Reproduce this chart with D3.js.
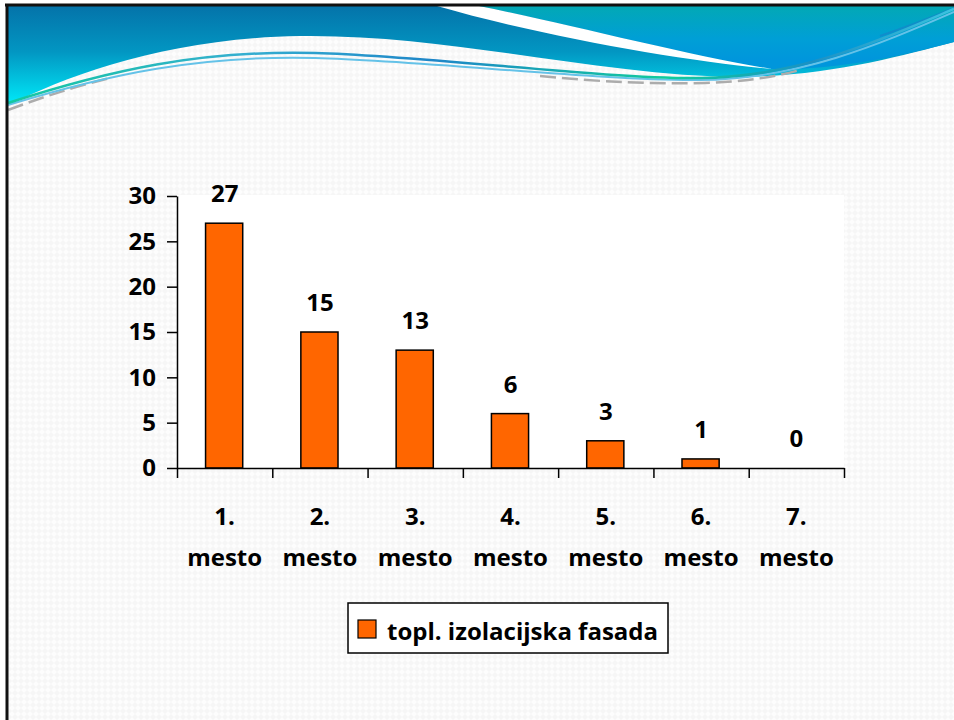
<!DOCTYPE html>
<html>
<head>
<meta charset="utf-8">
<script src="https://cdn.jsdelivr.net/npm/d3@7/dist/d3.min.js"></script>
<style>
  html, body { margin: 0; padding: 0; background: #ffffff; }
  svg { display: block; }
</style>
</head>
<body>
<svg id="chart" width="954" height="720"></svg>
<script>
// ---- data ----
const categories = ["1. mesto", "2. mesto", "3. mesto", "4. mesto", "5. mesto", "6. mesto", "7. mesto"];
const values = [27, 15, 13, 6, 3, 1, 0];
const yTicks = [0, 5, 10, 15, 20, 25, 30];
const seriesName = "topl. izolacijska fasada";

// ---- setup ----
const W = 954, H = 720;
const FONT = "'Open Sans', 'DejaVu Sans', sans-serif";
const svg = d3.select("#chart");
const defs = svg.append("defs");

// faint woven background texture
const pat = defs.append("pattern")
  .attr("id", "weave").attr("patternUnits", "userSpaceOnUse")
  .attr("width", 6).attr("height", 6);
pat.append("rect").attr("width", 6).attr("height", 6).attr("fill", "#fdfdfd");
pat.append("path").attr("d", "M0,3 L3,0 L6,3 L3,6 Z").attr("fill", "#f6f6f6");

// header gradients
const gLeft = defs.append("linearGradient").attr("id", "gLeft")
  .attr("gradientUnits", "userSpaceOnUse").attr("x1", 0).attr("y1", 7).attr("x2", 0).attr("y2", 106);
gLeft.append("stop").attr("offset", 0).attr("stop-color", "#0474aa");
gLeft.append("stop").attr("offset", 0.45).attr("stop-color", "#0296c2");
gLeft.append("stop").attr("offset", 1).attr("stop-color", "#00ecfa");

const gRight = defs.append("linearGradient").attr("id", "gRight")
  .attr("gradientUnits", "userSpaceOnUse").attr("x1", 0).attr("y1", 7).attr("x2", 0).attr("y2", 60);
gRight.append("stop").attr("offset", 0).attr("stop-color", "#02a8b6");
gRight.append("stop").attr("offset", 0.6).attr("stop-color", "#009fd6");
gRight.append("stop").attr("offset", 1).attr("stop-color", "#0096dc");

const gLine = defs.append("linearGradient").attr("id", "gLine")
  .attr("gradientUnits", "userSpaceOnUse").attr("x1", 8).attr("y1", 0).attr("x2", 954).attr("y2", 0);
[[0, "#14c8a0"], [0.25, "#34aed0"], [0.45, "#1e86c8"], [0.7, "#10cc9c"], [0.85, "#1b90c4"], [1, "#3cc4e0"]]
  .forEach(([o, c]) => gLine.append("stop").attr("offset", o).attr("stop-color", c));

// ---- slide background ----
svg.append("rect").attr("x", 7).attr("y", 5).attr("width", W - 7).attr("height", H - 5)
  .attr("fill", "url(#weave)");

// header band
svg.append("path")
  .attr("d", "M7,6 H954 V42 C 900,56 830,76 740,77 C 600,76 450,34 300,36 C 170,38 70,74 7,106 Z")
  .attr("fill", "url(#gLeft)");
svg.append("path")
  .attr("d", "M478,6 H954 V42 C 900,56 840,70 772,69 C 700,58 560,22 478,6 Z")
  .attr("fill", "url(#gRight)");
svg.append("path")
  .attr("d", "M437,6 H479 C 560,22 690,56 772,69 C 690,62 540,36 437,6 Z")
  .attr("fill", "#ffffff");
// thin streak in the upper-right band
svg.append("path")
  .attr("d", "M880,36 C 910,26 935,16 954,8")
  .attr("fill", "none").attr("stroke", "#1a7fc8").attr("stroke-width", 2).attr("opacity", 0.6);

// flowing lines
svg.append("path")
  .attr("d", "M8,110 C 40,98 70,88 110,78 M540,76 C 600,82 650,84 705,83 C 740,82 770,78 800,70")
  .attr("fill", "none").attr("stroke", "#acacac").attr("stroke-width", 2.5)
  .attr("stroke-dasharray", "16 6");
svg.append("path")
  .attr("d", "M8,105 C 110,74 200,55 315,58 S 600,81 700,80 S 880,44 954,12")
  .attr("fill", "none").attr("stroke", "#64c2e8").attr("stroke-width", 2);
svg.append("path")
  .attr("d", "M8,103 C 110,70 200,50 315,53 S 600,79 700,78 S 880,40 954,9")
  .attr("fill", "none").attr("stroke", "url(#gLine)").attr("stroke-width", 2.5);

// slide frame (top and left)
svg.append("line").attr("x1", 5).attr("x2", W).attr("y1", 5).attr("y2", 5)
  .attr("stroke", "#111").attr("stroke-width", 3);
svg.append("line").attr("x1", 7).attr("x2", 7).attr("y1", 4).attr("y2", H)
  .attr("stroke", "#111").attr("stroke-width", 3);

// ---- chart ----
const x0 = 177, x1 = 844, yTop = 196, yBase = 468;
const x = d3.scaleBand().domain(categories).range([x0, x1]).padding(0);
const xEdge = d3.scaleLinear().domain([0, categories.length]).range([x0, x1]);
const y = d3.scaleLinear().domain([0, 30]).range([yBase, yTop]);
const barW = x.bandwidth() * 0.39;

// plot area
svg.append("rect").attr("x", x0).attr("y", yTop - 1).attr("width", x1 - x0).attr("height", yBase - yTop + 1)
  .attr("fill", "#ffffff");

// bars
svg.append("g").selectAll("rect").data(values).join("rect")
  .attr("x", (d, i) => x(categories[i]) + (x.bandwidth() - barW) / 2 - 0.5)
  .attr("y", d => y(d))
  .attr("width", barW)
  .attr("height", d => y(0) - y(d))
  .attr("fill", "#ff6600")
  .attr("stroke", "#000").attr("stroke-width", 1.5)
  .style("display", d => d > 0 ? null : "none");

// value labels
svg.append("g").selectAll("text").data(values).join("text")
  .attr("x", (d, i) => x(categories[i]) + x.bandwidth() / 2)
  .attr("y", d => y(d) - 21)
  .attr("text-anchor", "middle")
  .attr("font-family", FONT).attr("font-weight", 700).attr("font-size", 24)
  .attr("fill", "#000")
  .text(d => d);

// y axis
const yAxis = svg.append("g").attr("transform", `translate(${x0},0)`)
  .call(d3.axisLeft(y).tickValues(yTicks).tickSize(10).tickSizeOuter(0).tickPadding(11));
yAxis.selectAll("text")
  .attr("font-family", FONT).attr("font-weight", 700).attr("font-size", 24).attr("fill", "#000")
  .attr("dy", "0.33em");

// x axis (tick marks at category boundaries)
const xAxis = svg.append("g").attr("transform", `translate(0,${yBase})`)
  .call(d3.axisBottom(xEdge).tickValues(d3.range(categories.length + 1)).tickSize(10)
    .tickSizeOuter(0).tickFormat(""));

[yAxis, xAxis].forEach(g => {
  g.select(".domain").attr("stroke", "#000").attr("stroke-width", 1.5);
  g.selectAll(".tick line").attr("stroke", "#000").attr("stroke-width", 1.5);
});

// category labels on two lines
const catText = svg.append("g").selectAll("text").data(categories).join("text")
  .attr("x", d => x(d) + x.bandwidth() / 2)
  .attr("y", 525)
  .attr("text-anchor", "middle")
  .attr("font-family", FONT).attr("font-weight", 700).attr("font-size", 24).attr("fill", "#000");
catText.selectAll("tspan").data(d => d.split(" ")).join("tspan")
  .attr("x", function () { return this.parentNode.getAttribute("x"); })
  .attr("dy", (d, i) => i === 0 ? 0 : 41)
  .text(d => d);

// legend
const lg = svg.append("g");
lg.append("rect").attr("x", 348).attr("y", 603).attr("width", 320).attr("height", 50)
  .attr("fill", "#ffffff").attr("stroke", "#000").attr("stroke-width", 1.5);
lg.append("rect").attr("x", 358).attr("y", 620).attr("width", 18).attr("height", 18)
  .attr("fill", "#ff6600").attr("stroke", "#000").attr("stroke-width", 1.2);
lg.append("text").attr("x", 387).attr("y", 640)
  .attr("font-family", FONT).attr("font-weight", 700).attr("font-size", 24).attr("fill", "#000")
  .text(seriesName);
</script>
</body>
</html>
